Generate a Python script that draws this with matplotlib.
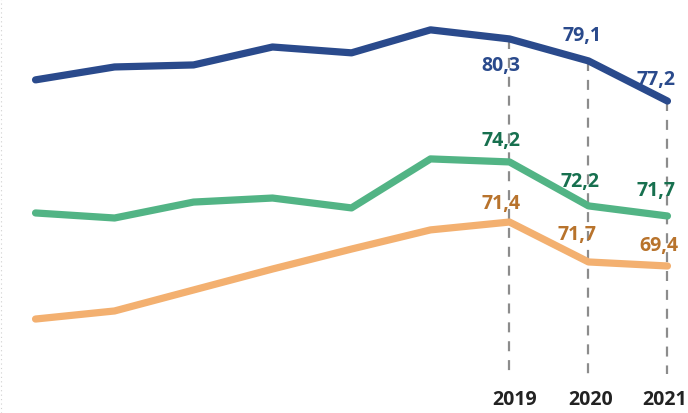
import matplotlib.pyplot as plt

years = [2013, 2014, 2015, 2016, 2017, 2018, 2019, 2020, 2021]

# values (common scale)
blue = [78.27, 78.91, 79.01, 79.90, 79.61, 80.75, 80.30, 79.21, 77.22]
green = [71.67, 71.42, 72.21, 72.41, 71.92, 74.35, 74.20, 72.02, 71.52]
orange = [66.41, 66.81, 67.85, 68.89, 69.88, 70.83, 71.22, 69.24, 69.04]

label_years = [2019, 2020, 2021]
blue_labels = ['80,3', '79,1', '77,2']
green_labels = ['74,2', '72,2', '71,7']
orange_labels = ['71,4', '71,7', '69,4']

c_blue = '#2a4a8c'
c_green = '#52b485'
c_orange = '#f3b070'
t_blue = '#2a4a8c'
t_green = '#17704f'
t_orange = '#b8732c'

plt.rcParams['font.family'] = ['Open Sans', 'DejaVu Sans']

fig = plt.figure(figsize=(6.88, 4.14), dpi=100)
ax = fig.add_axes([0, 0, 1, 1])
ax.set_xlim(2012.55, 2021.26)
ax.set_ylim(61.75, 82.28)
ax.axis('off')

# dotted border on the left
ax.axvline(2012.565, color='#d0d0d0', lw=0.8, ls=(0, (1, 3)))

# dashed guides down to the year labels
year_shift = [0.06, 0.03, -0.04]
for yr, dx in zip(label_years, year_shift):
    idx = years.index(yr)
    ax.plot([yr, yr], [blue[idx], 63.7], color='#8c8c8c', lw=1.6,
            ls=(0, (4.5, 4)), zorder=1)
    ax.text(yr + dx, 62.45, str(yr), ha='center', va='center', fontsize=14,
            fontweight='bold', color='#222222')

for vals, col in [(orange, c_orange), (green, c_green), (blue, c_blue)]:
    ax.plot(years, vals, color=col, lw=5.2, solid_capstyle='round',
            solid_joinstyle='round', zorder=3)

# label offsets in points (dx, dy) from each data point
blue_off = [(-6, -19), (-5, 19), (-8, 16)]
green_off = [(-6, 16), (-6, 18), (-8, 19)]
orange_off = [(-6, 14), (-8, 20), (-6, 15)]

for vals, labs, offs, col in [(blue, blue_labels, blue_off, t_blue),
                              (green, green_labels, green_off, t_green),
                              (orange, orange_labels, orange_off, t_orange)]:
    for yr, lab, off in zip(label_years, labs, offs):
        idx = years.index(yr)
        ax.annotate(lab, (yr, vals[idx]), xytext=off, textcoords='offset points',
                    ha='center', va='center', fontsize=14, fontweight='bold',
                    color=col, zorder=4)

fig.savefig('out.png', dpi=100)
